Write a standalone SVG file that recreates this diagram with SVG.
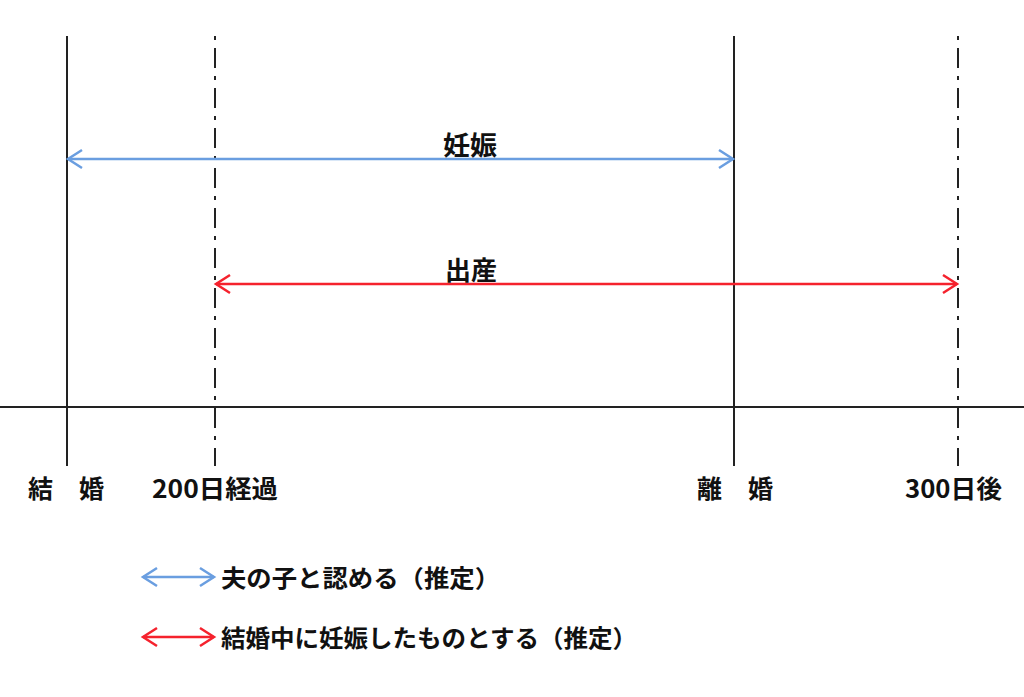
<svg xmlns="http://www.w3.org/2000/svg" width="1024" height="697" viewBox="0 0 1024 697">
<style>
.ax{stroke:#222;stroke-width:2;fill:none}
.dd{stroke:#222;stroke-width:2;fill:none;stroke-dasharray:4 8 20 8}
.blue{stroke:#6a9ee0;stroke-width:2.5;fill:none}
.red{stroke:#f5222d;stroke-width:2.5;fill:none}
text{font-family:"Noto Sans CJK JP","Noto Sans",sans-serif;fill:#111;font-weight:700}
.lbl{font-size:25px}
.ttl{font-size:26px}
.leg{font-size:24px}
</style>
<defs>
<marker id="ab" markerWidth="20" markerHeight="22" refX="17" refY="11" orient="auto-start-reverse" markerUnits="userSpaceOnUse"><path d="M3,2 L17,11 L3,20" fill="none" stroke="#6a9ee0" stroke-width="2.5"/></marker>
<marker id="ar" markerWidth="20" markerHeight="22" refX="17" refY="11" orient="auto-start-reverse" markerUnits="userSpaceOnUse"><path d="M3,2 L17,11 L3,20" fill="none" stroke="#f5222d" stroke-width="2.5"/></marker>
</defs>
<rect width="1024" height="697" fill="#fff"/>
<g id="axis">
<line class="ax" x1="0" y1="407" x2="1024" y2="407"/>
</g>
<g id="marriage">
<line class="ax" x1="67" y1="36" x2="67" y2="466"/>
<text class="lbl" x="28" y="498">結</text>
<text class="lbl" x="79" y="498">婚</text>
</g>
<g id="day200">
<line class="dd" x1="215" y1="36" x2="215" y2="466"/>
<text class="lbl" x="152" y="498" textLength="126" lengthAdjust="spacingAndGlyphs">200日経過</text>
</g>
<g id="divorce">
<line class="ax" x1="734" y1="36" x2="734" y2="466"/>
<text class="lbl" x="697" y="498">離</text>
<text class="lbl" x="748" y="498">婚</text>
</g>
<g id="day300">
<line class="dd" x1="958" y1="36" x2="958" y2="466"/>
<text class="lbl" x="905" y="498" textLength="97" lengthAdjust="spacingAndGlyphs">300日後</text>
</g>
<g id="connectors">
<line class="blue" x1="68" y1="159" x2="733" y2="159" marker-start="url(#ab)" marker-end="url(#ab)"/>
<line class="red" x1="216" y1="284" x2="957" y2="284" marker-start="url(#ar)" marker-end="url(#ar)"/>
</g>
<g id="label-pregnancy"><text class="ttl" x="443" y="155" textLength="54" lengthAdjust="spacingAndGlyphs">妊娠</text></g>
<g id="label-birth"><text class="ttl" x="445" y="280" textLength="52" lengthAdjust="spacingAndGlyphs">出産</text></g>
<g id="legend">
<line class="blue" x1="143" y1="577" x2="214" y2="577" marker-start="url(#ab)" marker-end="url(#ab)"/>
<text class="leg" x="221" y="587" textLength="279" lengthAdjust="spacingAndGlyphs">夫の子と認める（推定）</text>
<line class="red" x1="143" y1="637" x2="214" y2="637" marker-start="url(#ar)" marker-end="url(#ar)"/>
<text class="leg" x="221" y="647" textLength="416" lengthAdjust="spacingAndGlyphs">結婚中に妊娠したものとする（推定）</text>
</g>
</svg>
